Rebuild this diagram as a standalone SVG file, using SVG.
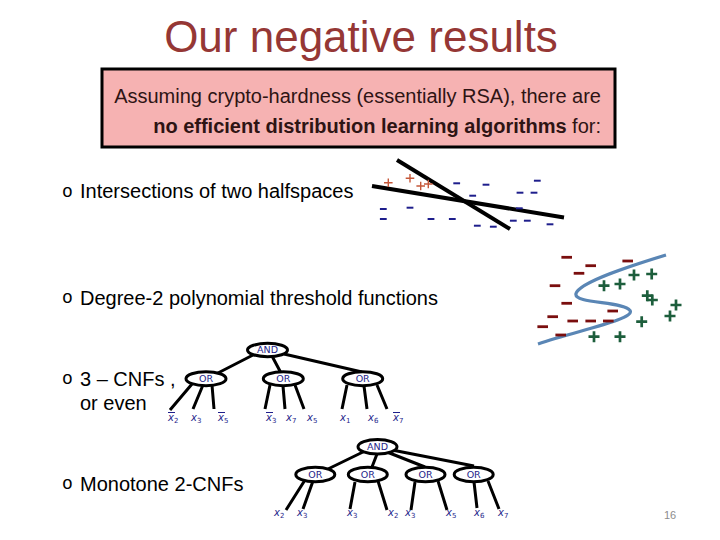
<svg xmlns="http://www.w3.org/2000/svg" xmlns:xlink="http://www.w3.org/1999/xlink" width="720" height="540" viewBox="0 0 720 540">
<style>
.title{font-family:"Liberation Sans",Arial,sans-serif;font-size:44px;fill:#953735}
.box{fill:#F6B2B2;stroke:#000;stroke-width:3}
.bt{font-family:"Liberation Sans",Arial,sans-serif;font-size:20px;fill:#2e1414}
.txt{font-family:"Liberation Sans",Arial,sans-serif;font-size:20px;fill:#000}
.bul{font-family:"Liberation Mono","Courier New",monospace;font-size:18px;fill:#000}
.hl{stroke:#000;stroke-width:4;fill:none}
.hp{stroke:#C5583A;stroke-width:1.4;fill:none}
.hm{stroke:#1E1E8C;stroke-width:2}
.pm{stroke:#7A0E0E;stroke-width:2.8}
.pp{stroke:#1D5E3C;stroke-width:2.7;fill:none}
.curve{stroke:#5A86B5;stroke-width:3.2;fill:none}
.edge{stroke:#000;stroke-width:3;fill:none}
.node{fill:#fff;stroke:#000;stroke-width:3}
.nl{font-family:"DejaVu Sans",Verdana,sans-serif;font-size:9.5px;fill:#1E1E8A;text-anchor:middle}
.lv{font-family:"DejaVu Sans",Verdana,sans-serif;font-size:10px;font-style:italic;fill:#1E1E8A}
.sb{font-size:7px;font-style:normal}
.ov{stroke:#1E1E8A;stroke-width:1}
.pg{font-family:"Liberation Sans",Arial,sans-serif;font-size:11px;fill:#8c8c8c}
</style>
<defs>
<path id="hplus" class="hp" d="M-4.3,0H4.3M0,-4.3V4.3"/>
<line id="hminus" class="hm" x1="-3.4" y1="0" x2="3.4" y2="0"/>
<line id="pminus" class="pm" x1="-5.3" y1="0" x2="5.3" y2="0"/>
<path id="pplus" class="pp" d="M-5.5,0H5.5M0,-5.5V5.5"/>
</defs>
<rect width="720" height="540" fill="#fff"/>
<text class="title" x="361" y="52" text-anchor="middle">Our negative results</text>

<g id="assumption">
<rect class="box" x="102" y="69" width="513" height="78"/>
<text class="bt" x="601" y="103" text-anchor="end">Assuming crypto-hardness (essentially RSA), there are</text>
<text class="bt" x="601" y="133" text-anchor="end"><tspan font-weight="bold">no efficient distribution learning algorithms</tspan> for:</text>
</g>

<g id="bullets">
<text class="bul" x="62" y="197">o</text>
<text class="txt" x="80" y="198">Intersections of two halfspaces</text>
<text class="bul" x="62" y="303">o</text>
<text class="txt" x="80" y="305">Degree-2 polynomial threshold functions</text>
<text class="bul" x="62" y="384">o</text>
<text class="txt" x="80" y="386">3 – CNFs ,</text>
<text class="txt" x="80" y="410">or even</text>
<text class="bul" x="62" y="489">o</text>
<text class="txt" x="80" y="491">Monotone 2-CNFs</text>
</g>

<g id="halfspaces">
<line class="hl" x1="372" y1="186" x2="564" y2="217.5"/>
<line class="hl" x1="397" y1="160" x2="510" y2="229"/>
<use xlink:href="#hplus" x="388.3" y="182.7"/>
<use xlink:href="#hplus" x="410" y="178.3"/>
<use xlink:href="#hplus" x="420.7" y="186"/>
<use xlink:href="#hplus" x="428.3" y="184"/>
<use xlink:href="#hminus" x="456.7" y="183.3"/>
<use xlink:href="#hminus" x="486" y="184.7"/>
<use xlink:href="#hminus" x="537.3" y="180.7"/>
<use xlink:href="#hminus" x="472.7" y="195.7"/>
<use xlink:href="#hminus" x="520" y="192.7"/>
<use xlink:href="#hminus" x="534" y="192.7"/>
<use xlink:href="#hminus" x="383.3" y="209"/>
<use xlink:href="#hminus" x="410" y="207.7"/>
<use xlink:href="#hminus" x="383.3" y="219"/>
<use xlink:href="#hminus" x="431" y="219"/>
<use xlink:href="#hminus" x="452.3" y="219"/>
<use xlink:href="#hminus" x="519.3" y="208.3"/>
<use xlink:href="#hminus" x="513.3" y="220.7"/>
<use xlink:href="#hminus" x="527.3" y="220.7"/>
<use xlink:href="#hminus" x="550" y="224.3"/>
<use xlink:href="#hminus" x="477.3" y="225.7"/>
<use xlink:href="#hminus" x="493.3" y="226.7"/>
</g>

<g id="ptf">
<path class="curve" d="M538,344 C580,330 636,319 630,310.5 C624,301 573,304 576,293.5 C580,282 630,266 666,255"/>
<use xlink:href="#pminus" x="566.7" y="257.3"/>
<use xlink:href="#pminus" x="590.7" y="265.7"/>
<use xlink:href="#pminus" x="627.7" y="261"/>
<use xlink:href="#pminus" x="579" y="273.3"/>
<use xlink:href="#pminus" x="555" y="285.7"/>
<use xlink:href="#pminus" x="566.7" y="303.3"/>
<use xlink:href="#pminus" x="612.7" y="311"/>
<use xlink:href="#pminus" x="552.7" y="316.7"/>
<use xlink:href="#pminus" x="572.7" y="321"/>
<use xlink:href="#pminus" x="590.7" y="321"/>
<use xlink:href="#pminus" x="608.3" y="321"/>
<use xlink:href="#pminus" x="542.7" y="326.7"/>
<use xlink:href="#pminus" x="560.7" y="335"/>
<use xlink:href="#pplus" x="604" y="285.7"/>
<use xlink:href="#pplus" x="620" y="284"/>
<use xlink:href="#pplus" x="634" y="275"/>
<use xlink:href="#pplus" x="651.7" y="274"/>
<use xlink:href="#pplus" x="647.3" y="295.7"/>
<use xlink:href="#pplus" x="652.3" y="300"/>
<use xlink:href="#pplus" x="676" y="305"/>
<use xlink:href="#pplus" x="670" y="316"/>
<use xlink:href="#pplus" x="641.7" y="321.7"/>
<use xlink:href="#pplus" x="594" y="336.7"/>
<use xlink:href="#pplus" x="620" y="336.7"/>
</g>

<g id="connectors">
<path class="edge" d="M253,355L216,374M272,356L281,373M284,354L362,372"/>
<path class="edge" d="M192,384L170,410M203,385L193,409M212,385L214,409"/>
<path class="edge" d="M270,385L265,409M283,386L285,409M295,385L304,409"/>
<path class="edge" d="M347,385L342,409M364,386L367,409M377,385L387,409"/>
<path class="edge" d="M365,451L328,469M377,454L372,467M387,452L425,467M392,450L474,466"/>
<path class="edge" d="M305,480L286,510M313,481L303,509M355,482L350,509M378,481L387,510"/>
<path class="edge" d="M415,482L411,510M438,481L447,510M474,482L477,508M488,481L499,509"/>
</g>

<g id="cnf3-and"><ellipse class="node" cx="267.5" cy="350" rx="20" ry="6.7"/><text class="nl" x="267.5" y="353.4">AND</text></g>
<g id="cnf3-or1"><ellipse class="node" cx="206" cy="378.7" rx="20" ry="7"/><text class="nl" x="206" y="382.1">OR</text></g>
<g id="cnf3-or2"><ellipse class="node" cx="283.3" cy="378.7" rx="20" ry="7"/><text class="nl" x="283.3" y="382.1">OR</text></g>
<g id="cnf3-or3"><ellipse class="node" cx="362.7" cy="378.7" rx="20" ry="7"/><text class="nl" x="362.7" y="382.1">OR</text></g>

<g id="cnf3-leaves">
<text class="lv" x="168" y="421">x<tspan class="sb" dy="2">2</tspan></text><line class="ov" x1="168" y1="412.5" x2="175" y2="412.5"/>
<text class="lv" x="191" y="421">x<tspan class="sb" dy="2">3</tspan></text>
<text class="lv" x="218" y="421">x<tspan class="sb" dy="2">5</tspan></text><line class="ov" x1="218" y1="412.5" x2="225" y2="412.5"/>
<text class="lv" x="266" y="421">x<tspan class="sb" dy="2">3</tspan></text><line class="ov" x1="266" y1="412.5" x2="273" y2="412.5"/>
<text class="lv" x="286" y="421">x<tspan class="sb" dy="2">7</tspan></text>
<text class="lv" x="307" y="421">x<tspan class="sb" dy="2">5</tspan></text>
<text class="lv" x="340" y="421">x<tspan class="sb" dy="2">1</tspan></text>
<text class="lv" x="368" y="421">x<tspan class="sb" dy="2">6</tspan></text>
<text class="lv" x="393" y="421">x<tspan class="sb" dy="2">7</tspan></text><line class="ov" x1="393" y1="412.5" x2="400" y2="412.5"/>
</g>

<g id="mcnf-and"><ellipse class="node" cx="377.5" cy="446.7" rx="19.5" ry="7.3"/><text class="nl" x="377.5" y="450.1">AND</text></g>
<g id="mcnf-or1"><ellipse class="node" cx="315.3" cy="474.5" rx="19.5" ry="7.2"/><text class="nl" x="315.3" y="477.9">OR</text></g>
<g id="mcnf-or2"><ellipse class="node" cx="367.8" cy="474.5" rx="19.5" ry="7.2"/><text class="nl" x="367.8" y="477.9">OR</text></g>
<g id="mcnf-or3"><ellipse class="node" cx="425.5" cy="474.5" rx="19.5" ry="7.2"/><text class="nl" x="425.5" y="477.9">OR</text></g>
<g id="mcnf-or4"><ellipse class="node" cx="473.7" cy="474.5" rx="19.5" ry="7.2"/><text class="nl" x="473.7" y="477.9">OR</text></g>

<g id="mcnf-leaves">
<text class="lv" x="274" y="516">x<tspan class="sb" dy="2">2</tspan></text>
<text class="lv" x="297" y="516">x<tspan class="sb" dy="2">3</tspan></text>
<text class="lv" x="347" y="516">x<tspan class="sb" dy="2">3</tspan></text>
<text class="lv" x="388" y="516">x<tspan class="sb" dy="2">2</tspan></text>
<text class="lv" x="405" y="516">x<tspan class="sb" dy="2">3</tspan></text>
<text class="lv" x="446" y="516">x<tspan class="sb" dy="2">5</tspan></text>
<text class="lv" x="474" y="516">x<tspan class="sb" dy="2">6</tspan></text>
<text class="lv" x="498" y="516">x<tspan class="sb" dy="2">7</tspan></text>
</g>

<text class="pg" x="670" y="519" text-anchor="middle">16</text>
</svg>
